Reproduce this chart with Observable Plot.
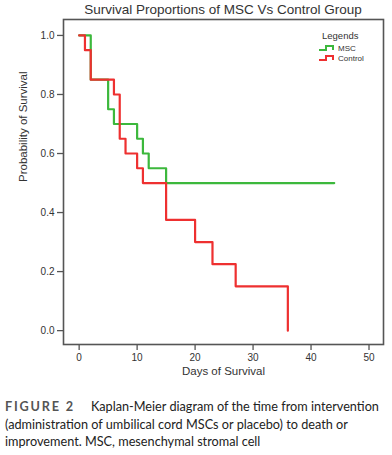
<!DOCTYPE html>
<html><head><meta charset="utf-8">
<script src="https://cdn.jsdelivr.net/npm/d3@7"></script>
<script src="https://cdn.jsdelivr.net/npm/@observablehq/plot@0.6"></script>
<style>
body{margin:0;background:#fff;}
#wrap{position:relative;width:392px;height:385px;}
#title{position:absolute;left:63px;width:320px;top:2px;text-align:center;font:13.5px "Liberation Sans",Arial,sans-serif;color:#333;}
#legend{position:absolute;left:318px;top:30px;font:8px "Liberation Sans",Arial,sans-serif;color:#333;}
#legend .h{font-size:9.5px;margin-left:4px;margin-bottom:2px;}
#legend .r{display:flex;align-items:center;height:10px;}
#cap{margin:13px 0 0 5px;width:387px;font:12.7px Lato,sans-serif;color:#222;line-height:17.5px;}
#cap .l1{display:flex;white-space:nowrap;}
#cap b{letter-spacing:1.8px;color:#555;margin-right:16px;}
#cap div{white-space:nowrap;}
</style></head><body>
<div id="wrap"><div id="chart"></div><div id="title">Survival Proportions of MSC Vs Control Group</div>
<div id="legend"><div class="h">Legends</div></div></div>
<div id="cap"><div class="l1"><b>FIGURE 2</b><span>Kaplan-Meier diagram of the time from intervention</span></div><div>(administration of umbilical cord MSCs or placebo) to death or</div><div>improvement. MSC, mesenchymal stromal cell</div></div>
<script>
const mscDays  = [0, 2, 5, 6, 10, 11, 12, 15, 44];
const mscProb  = [1.0, 0.85, 0.75, 0.70, 0.65, 0.60, 0.55, 0.50, 0.50];
const ctlDays  = [0, 1, 2, 6, 7, 8, 10, 11, 15, 20, 23, 27, 36, 36];
const ctlProb  = [1.0, 0.95, 0.85, 0.80, 0.65, 0.60, 0.55, 0.50, 0.375, 0.30, 0.225, 0.15, 0.15, 0.0];
const seriesNames = ["MSC", "Control"];
const seriesColors = ["#3cb83c", "#ee3030"];
const xTicks = [0, 10, 20, 30, 40, 50];
const yTicks = [0, 0.2, 0.4, 0.6, 0.8, 1.0];

const data = [
  ...mscDays.map((d, i) => ({group: "MSC", day: d, p: mscProb[i]})),
  ...ctlDays.map((d, i) => ({group: "Control", day: d, p: ctlProb[i]}))
];

const chart = Plot.plot({
  width: 392, height: 385,
  marginLeft: 63, marginRight: 9, marginTop: 19, marginBottom: 41,
  style: {fontFamily: '"Liberation Sans", Arial, sans-serif', fontSize: "10px", color: "#333"},
  x: {domain: [-2.7, 52.5]},
  y: {domain: [-0.047, 1.054]},
  color: {domain: seriesNames, range: seriesColors},
  marks: [
    Plot.axisX({ticks: xTicks, tickSize: 6, tickPadding: 3, label: null, stroke: "#555", strokeWidth: 1.3}),
    Plot.axisY({ticks: yTicks, tickSize: 6, tickPadding: 3, tickFormat: d3.format(".1f"), label: null, stroke: "#555", strokeWidth: 1.3}),
    Plot.line(data, {x: "day", y: "p", z: "group", stroke: "group", curve: "step-after", strokeWidth: 2.2}),
    Plot.frame({stroke: "#555", strokeWidth: 1.6}),
    Plot.text(["Days of Survival"], {frameAnchor: "bottom", dy: 30, fontSize: 11.5, fill: "#333"}),
    Plot.text(["Probability of Survival"], {frameAnchor: "left", rotate: -90, dx: -40, fontSize: 11.5, fill: "#333"})
  ]
});
document.getElementById("chart").append(chart);

const leg = document.getElementById("legend");
seriesNames.forEach((n, i) => {
  const r = document.createElement("div"); r.className = "r";
  r.innerHTML = `<svg width="20" height="8"><path d="M1,6H8V2H15V6" fill="none" stroke="${seriesColors[i]}" stroke-width="2"/></svg><span>${n}</span>`;
  leg.append(r);
});
</script>
</body></html>
